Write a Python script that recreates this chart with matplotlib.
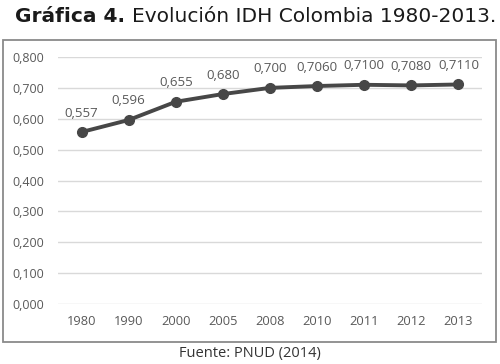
import matplotlib

matplotlib.use("Agg")
from matplotlib import pyplot
from matplotlib.patches import Rectangle

years = ["1980", "1990", "2000", "2005", "2008", "2010", "2011", "2012", "2013"]
idh = [0.557, 0.596, 0.655, 0.680, 0.700, 0.7060, 0.7100, 0.7080, 0.7110]
point_labels = ["0,557", "0,596", "0,655", "0,680", "0,700", "0,7060", "0,7100", "0,7080", "0,7110"]
y_ticks = [0.0, 0.1, 0.2, 0.3, 0.4, 0.5, 0.6, 0.7, 0.8]

font = "Open Sans"
label_gray = "#595959"

figure = pyplot.figure(figsize=(5, 3.64), dpi=100)
figure.patches.append(
    Rectangle((3 / 500, 1 - 342 / 364), 493 / 500, 302 / 364, transform=figure.transFigure,
              fill=False, edgecolor="#8a8a8a", linewidth=1.3)
)

axis = figure.add_axes([58 / 500, 60 / 364, 424 / 500, 247 / 364])
x = list(range(len(years)))
axis.plot(x, idh, color="#474747", linewidth=2.8, marker="o", markersize=7, clip_on=False, zorder=3)
for xi, value, text in zip(x, idh, point_labels):
    axis.annotate(text, (xi, value), xytext=(0, 9), textcoords="offset points", ha="center",
                  va="bottom", fontsize=9.5, color=label_gray, family=font)

axis.set_xlim(-0.5, len(years) - 0.5)
axis.set_ylim(0, 0.8)
axis.set_xticks(x)
axis.set_xticklabels(years, family=font, fontsize=9.3, color=label_gray)
axis.set_yticks(y_ticks)
axis.set_yticklabels([f"{t:.3f}".replace(".", ",") for t in y_ticks], family=font, fontsize=9,
                     color=label_gray)
axis.tick_params(length=0, pad=10)
axis.tick_params(axis="x", pad=8)
axis.grid(axis="y", color="#d9d9d9", linewidth=1)
axis.set_axisbelow(True)
for spine in axis.spines.values():
    spine.set_visible(False)

title_bold = figure.text(15 / 500, 1 - 17 / 364, "Gráfica 4.", fontsize=14.5, fontweight="bold",
                         family="DejaVu Sans", va="center", ha="left", color="#1a1a1a")
figure.canvas.draw()
box = title_bold.get_window_extent()
figure.text(box.x1 / 500 + 7 / 500, 1 - 17 / 364, "Evolución IDH Colombia 1980-2013.", fontsize=14.5,
            family="DejaVu Sans", va="center", ha="left", color="#1a1a1a")

figure.text(0.5, 1 - 354 / 364, "Fuente: PNUD (2014)", fontsize=10.5, family=font, ha="center",
            va="center", color="#333333")

figure.savefig("out.png", dpi=100)
pyplot.close(figure)
